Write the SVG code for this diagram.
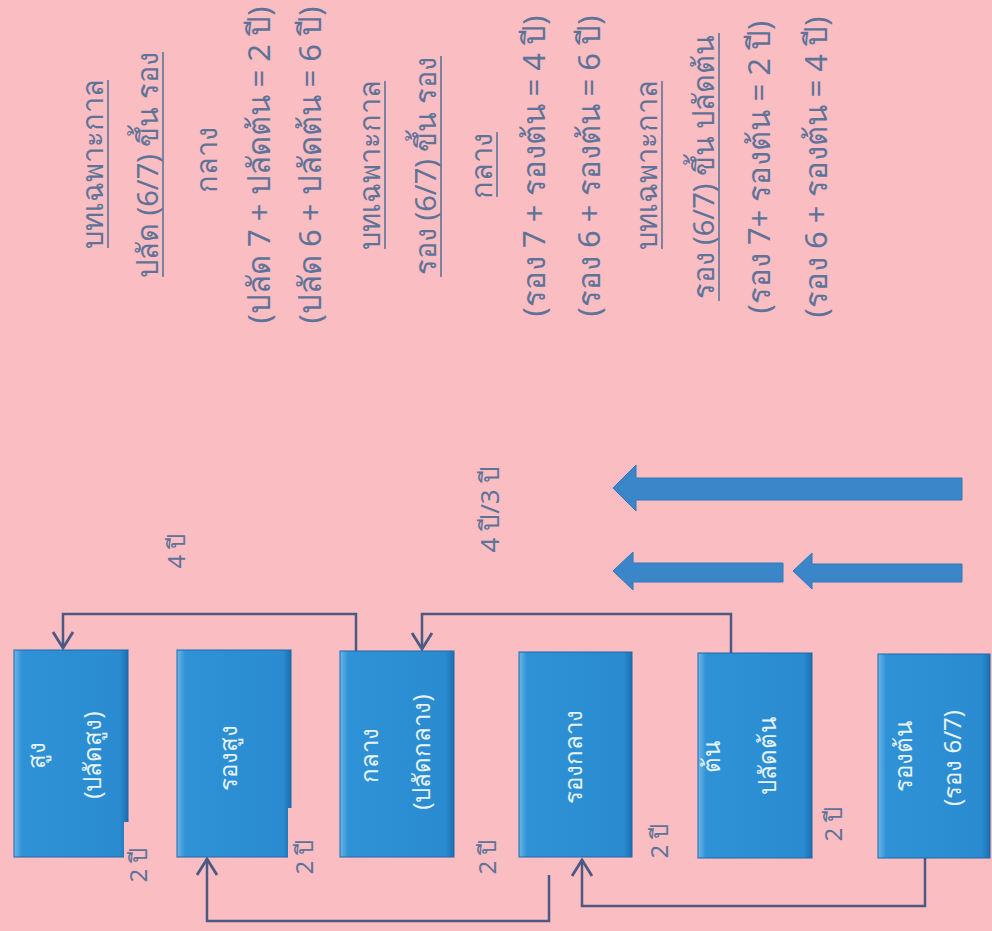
<svg xmlns="http://www.w3.org/2000/svg" width="992" height="931" viewBox="0 0 992 931">
<defs>
<style>
.hd{font-family:"Noto Sans","DejaVu Sans","Liberation Sans",sans-serif;font-size:29px;fill:#5f7399;text-anchor:middle}
.eq{font-size:31px}
.ul{stroke:#5f7399;stroke-width:1.6}
.bx{font-family:"Noto Sans","DejaVu Sans","Liberation Sans",sans-serif;font-size:24px;fill:#e8f3fb;text-anchor:middle}
.lb{font-family:"Noto Sans","DejaVu Sans","Liberation Sans",sans-serif;font-size:24px;fill:#5f7399;text-anchor:middle}
.con{fill:none;stroke:#4b5a82;stroke-width:2.5;marker-end:url(#ah)}
.fat{fill:#3a86c9;stroke:#2f78b8;stroke-width:1}
.box{fill:url(#bg);stroke:#1b6aa8;stroke-width:1}
</style>
<linearGradient id="bg" x1="0" y1="0" x2="1" y2="0">
<stop offset="0" stop-color="#6db6e8"/>
<stop offset="0.07" stop-color="#2f92d6"/>
<stop offset="0.93" stop-color="#2a8bd0"/>
<stop offset="1" stop-color="#1a6fb0"/>
</linearGradient>
<marker id="ah" viewBox="0 0 20 24" refX="18" refY="12" markerWidth="20" markerHeight="24" markerUnits="userSpaceOnUse" orient="auto">
<path d="M2,2 L18,12 L2,22" fill="none" stroke="#4b5a82" stroke-width="2.8"/>
</marker>
</defs>
<rect width="992" height="931" fill="#fabdc2"/>

<g id="notes">
<text class="hd" transform="translate(103,164) rotate(-90)">บทเฉพาะกาล</text>
<line class="ul" x1="108" y1="80" x2="108" y2="248"/>
<text class="hd" transform="translate(158,165) rotate(-90)">ปลัด (6/7) ขึ้น รอง</text>
<line class="ul" x1="163" y1="52" x2="163" y2="277"/>
<text class="hd" transform="translate(217,160) rotate(-90)">กลาง</text>
<text class="hd eq" transform="translate(270,165) rotate(-90)">(ปลัด 7 + ปลัดต้น = 2 ปี)</text>
<text class="hd eq" transform="translate(321,165) rotate(-90)">(ปลัด 6 + ปลัดต้น = 6 ปี)</text>
<text class="hd" transform="translate(380,165) rotate(-90)">บทเฉพาะกาล</text>
<line class="ul" x1="385" y1="81" x2="385" y2="249"/>
<text class="hd" transform="translate(436,166) rotate(-90)">รอง (6/7) ขึ้น รอง</text>
<line class="ul" x1="441" y1="56" x2="441" y2="277"/>
<text class="hd" transform="translate(492,166) rotate(-90)">กลาง</text>
<line class="ul" x1="497" y1="132" x2="497" y2="197"/>
<text class="hd eq" transform="translate(545,166) rotate(-90)">(รอง 7 + รองต้น = 4 ปี)</text>
<text class="hd eq" transform="translate(600,166) rotate(-90)">(รอง 6 + รองต้น = 6 ปี)</text>
<text class="hd" transform="translate(657,165) rotate(-90)">บทเฉพาะกาล</text>
<line class="ul" x1="662" y1="81" x2="662" y2="249"/>
<text class="hd" transform="translate(714,167) rotate(-90)">รอง (6/7) ขึ้น ปลัดต้น</text>
<line class="ul" x1="719" y1="33" x2="719" y2="301"/>
<text class="hd eq" transform="translate(770,167) rotate(-90)">(รอง 7+ รองต้น = 2 ปี)</text>
<text class="hd eq" transform="translate(827,167) rotate(-90)">(รอง 6 + รองต้น = 4 ปี)</text>
</g>

<g id="fat-arrows">
<polygon class="fat" points="613,488 636,465 636,478 962,478 962,500 636,500 636,511"/>
<polygon class="fat" points="613,571 633,552 633,563 783,563 783,582 633,582 633,590"/>
<polygon class="fat" points="793,571 812,553 812,564 962,564 962,582 812,582 812,589"/>
</g>

<g id="connectors">
<path class="con" d="M356,651 V614 H63 V648"/>
<path class="con" d="M731,653 V614 H422 V649"/>
<path class="con" d="M549,875 V921 H207 V859"/>
<path class="con" d="M925,858 V906 H582 V860"/>
</g>

<g id="node-sung">
<rect class="box" x="14" y="650" width="114" height="207"/>
<text class="bx" transform="translate(45,755) rotate(-90)">สูง</text>
<text class="bx" transform="translate(101,755) rotate(-90)">(ปลัดสูง)</text>
</g>
<g id="node-rongsung">
<rect class="box" x="177" y="650" width="114" height="207"/>
<text class="bx" transform="translate(237,758) rotate(-90)">รองสูง</text>
</g>
<g id="node-klang">
<rect class="box" x="340" y="651" width="114" height="206"/>
<text class="bx" transform="translate(378,755) rotate(-90)">กลาง</text>
<text class="bx" transform="translate(430,752) rotate(-90)">(ปลัดกลาง)</text>
</g>
<g id="node-rongklang">
<rect class="box" x="519" y="652" width="113" height="205"/>
<text class="bx" transform="translate(582,757) rotate(-90)">รองกลาง</text>
</g>
<g id="node-ton">
<rect class="box" x="698" y="653" width="114" height="205"/>
<text class="bx" transform="translate(720,757) rotate(-90)">ต้น</text>
<text class="bx" transform="translate(776,756) rotate(-90)">ปลัดต้น</text>
</g>
<g id="node-rongton">
<rect class="box" x="878" y="654" width="112" height="204"/>
<text class="bx" transform="translate(912,756) rotate(-90)">รองต้น</text>
<text class="bx" transform="translate(961,758) rotate(-90)">(รอง 6/7)</text>
</g>

<g id="labels">
<rect x="124" y="822" width="8" height="37" fill="#fabdc2"/>
<rect x="288" y="808" width="6" height="51" fill="#fabdc2"/>
<text class="lb" transform="translate(147,865) rotate(-90)">2 ปี</text>
<text class="lb" transform="translate(313,857) rotate(-90)">2 ปี</text>
<text class="lb" transform="translate(496,857) rotate(-90)">2 ปี</text>
<text class="lb" transform="translate(668,841) rotate(-90)">2 ปี</text>
<text class="lb" transform="translate(842,824) rotate(-90)">2 ปี</text>
<text class="lb" transform="translate(185,551) rotate(-90)">4 ปี</text>
<text class="lb" style="font-size:26px" transform="translate(499,509) rotate(-90)">4 ปี/3 ปี</text>
</g>
</svg>
